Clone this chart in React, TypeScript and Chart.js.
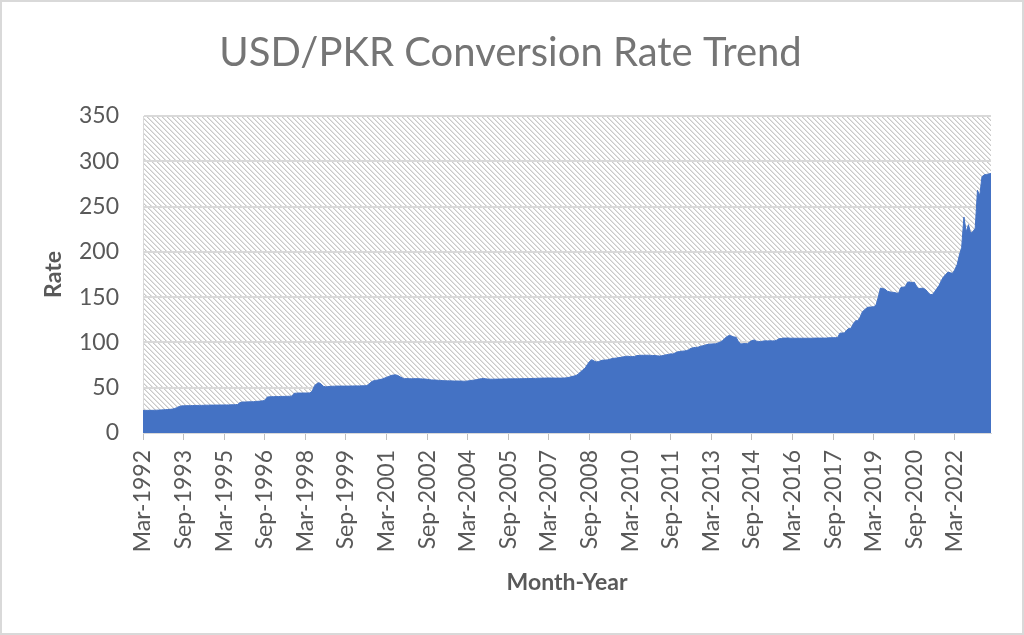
import { useEffect, useRef } from 'react';
import { Chart, registerables } from 'chart.js';

Chart.register(...registerables);

const chartTitle = 'USD/PKR Conversion Rate Trend';
const xAxisTitle = 'Month-Year';
const yAxisTitle = 'Rate';

// x tick labels, one every 18 months starting at Mar-1992 (month index 0)
const tickLabels = [
  'Mar-1992', 'Sep-1993', 'Mar-1995', 'Sep-1996', 'Mar-1998', 'Sep-1999', 'Mar-2001',
  'Sep-2002', 'Mar-2004', 'Sep-2005', 'Mar-2007', 'Sep-2008', 'Mar-2010', 'Sep-2011',
  'Mar-2013', 'Sep-2014', 'Mar-2016', 'Sep-2017', 'Mar-2019', 'Sep-2020', 'Mar-2022',
];
const tickEvery = 18;

// monthly USD/PKR rate, Mar-1992 .. Jul-2023
const rates = [
  /*1992*/ 24.9, 24.9, 25.0, 25.0, 25.0, 25.1, 25.2, 25.3, 25.4, 25.6,
  /*1993*/ 25.8, 25.9, 26.1, 26.4, 27.0, 28.0, 29.2, 29.9, 30.1, 30.1, 30.2, 30.2,
  /*1994*/ 30.3, 30.4, 30.4, 30.5, 30.5, 30.6, 30.7, 30.7, 30.8, 30.8, 30.8, 30.9,
  /*1995*/ 30.9, 30.9, 31.0, 31.0, 31.0, 31.1, 31.2, 31.3, 31.5, 33.6, 34.2, 34.3,
  /*1996*/ 34.3, 34.4, 34.5, 34.6, 34.8, 35.0, 35.2, 35.5, 36.0, 39.5, 40.0, 40.1,
  /*1997*/ 40.1, 40.2, 40.2, 40.3, 40.4, 40.4, 40.5, 40.6, 40.7, 43.8, 44.0, 44.1,
  /*1998*/ 44.1, 44.1, 44.2, 44.2, 44.3, 46.0, 52.0, 54.5, 55.5, 54.0, 51.5, 51.0,
  /*1999*/ 51.2, 51.5, 51.6, 51.7, 51.8, 51.8, 51.8, 51.8, 51.8, 51.8, 51.9, 51.9,
  /*2000*/ 52.0, 52.0, 52.0, 52.1, 52.1, 52.3, 53.5, 56.0, 57.5, 58.0, 58.5, 59.0,
  /*2001*/ 59.5, 60.5, 61.5, 62.5, 63.5, 64.0, 64.2, 63.5, 62.0, 60.8, 60.0, 60.1,
  /*2002*/ 59.9, 59.9, 60.0, 60.0, 60.0, 59.8, 59.7, 59.6, 59.3, 58.9, 58.6, 58.5,
  /*2003*/ 58.4, 58.2, 58.0, 57.8, 57.7, 57.6, 57.6, 57.5, 57.4, 57.4, 57.4, 57.3,
  /*2004*/ 57.2, 57.2, 57.5, 57.8, 58.2, 58.5, 59.0, 59.5, 60.0, 60.2, 59.8, 59.5,
  /*2005*/ 59.4, 59.4, 59.4, 59.5, 59.5, 59.6, 59.7, 59.7, 59.8, 59.8, 59.8, 59.8,
  /*2006*/ 59.9, 59.9, 60.0, 60.0, 60.1, 60.1, 60.2, 60.2, 60.3, 60.4, 60.5, 60.6,
  /*2007*/ 60.6, 60.7, 60.7, 60.7, 60.7, 60.6, 60.6, 60.6, 60.7, 60.8, 61.0, 61.5,
  /*2008*/ 62.3, 62.8, 63.5, 65.0, 67.5, 69.5, 71.5, 75.5, 79.0, 81.0, 79.5, 78.5,
  /*2009*/ 78.9, 79.8, 80.5, 80.5, 80.8, 81.4, 82.2, 82.5, 82.8, 83.3, 83.5, 84.2,
  /*2010*/ 84.5, 84.8, 84.3, 84.4, 84.6, 85.5, 85.6, 85.8, 85.8, 85.8, 85.9, 85.7,
  /*2011*/ 85.6, 85.5, 85.2, 85.0, 85.2, 85.8, 86.4, 86.7, 87.4, 87.2, 88.5, 89.6,
  /*2012*/ 89.9, 90.3, 90.6, 91.0, 92.0, 93.5, 94.2, 94.5, 94.6, 95.6, 96.2, 96.8,
  /*2013*/ 97.6, 98.0, 98.3, 98.4, 98.5, 99.5, 100.5, 102.0, 104.5, 106.5, 107.8, 107.0,
  /*2014*/ 106.0, 105.8, 101.0, 98.3, 98.6, 98.8, 98.6, 100.5, 102.0, 102.7, 101.4, 101.1,
  /*2015*/ 100.7, 101.6, 101.8, 101.7, 101.8, 101.7, 101.8, 102.5, 104.1, 104.3, 104.8, 104.8,
  /*2016*/ 104.9, 104.6, 104.7, 104.6, 104.6, 104.6, 104.6, 104.6, 104.6, 104.6, 104.6, 104.6,
  /*2017*/ 104.8, 104.8, 104.8, 104.8, 104.8, 104.8, 105.1, 105.2, 105.2, 105.3, 105.4, 110.2,
  /*2018*/ 110.4, 110.5, 113.5, 115.5, 115.7, 121.0, 124.0, 124.0, 128.0, 134.0, 136.0, 138.5,
  /*2019*/ 139.0, 139.2, 139.5, 141.0, 150.0, 160.0, 159.5, 158.8, 156.6, 156.0, 155.4, 155.2,
  /*2020*/ 154.6, 154.2, 160.5, 161.0, 161.5, 166.5, 166.8, 166.0, 166.5, 162.0, 159.2, 159.8,
  /*2021*/ 159.7, 158.4, 155.5, 153.0, 152.8, 156.0, 159.5, 163.0, 168.5, 172.5, 175.2, 177.8,
  /*2022*/ 176.8, 176.4, 180.5, 186.0, 196.5, 205.0, 238.5, 222.0, 230.0, 220.5, 222.4, 226.0,
  /*2023*/ 268.0, 262.0, 283.0, 285.0, 285.5, 286.0, 286.5,
];

const yMin = 0;
const yMax = 350;
const yStep = 50;

const FONT = 'Lato, "Open Sans", "Noto Sans", sans-serif';
const TEXT = '#595959';

function makeHatch(): CanvasPattern | string {
  const size = 5;
  const c = document.createElement('canvas');
  c.width = size;
  c.height = size;
  const g = c.getContext('2d');
  if (!g) return '#eeeeee';
  g.fillStyle = '#ffffff';
  g.fillRect(0, 0, size, size);
  for (let i = 0; i < size; i++) {
    g.fillStyle = '#c9c9c9';
    g.fillRect(i, i, 1, 1);
    g.fillStyle = '#e3e3e3';
    g.fillRect((i + 1) % size, i, 1, 1);
  }
  const p = g.createPattern(c, 'repeat');
  return p || '#eeeeee';
}

export default function App() {
  const ref = useRef<HTMLCanvasElement | null>(null);

  useEffect(() => {
    document.body.style.margin = '0';
    const canvas = ref.current;
    if (!canvas) return;
    const hatch = makeHatch();

    const hatchPlugin = {
      id: 'hatchBg',
      beforeDraw(chart: any) {
        const { ctx, chartArea } = chart;
        ctx.save();
        ctx.fillStyle = hatch as any;
        ctx.fillRect(chartArea.left, chartArea.top, chartArea.right - chartArea.left, chartArea.bottom - chartArea.top);
        ctx.restore();
      },
    };
    const borderPlugin = {
      id: 'outerBorder',
      afterDraw(chart: any) {
        const { ctx, width, height } = chart;
        ctx.save();
        ctx.strokeStyle = '#d9d9d9';
        ctx.lineWidth = 2;
        ctx.strokeRect(1, 1, width - 2, height - 2);
        ctx.restore();
      },
    };

    const chart = new Chart(canvas, {
      type: 'line',
      data: {
        datasets: [
          {
            label: yAxisTitle,
            data: rates.map((y, i) => ({ x: i, y })),
            fill: 'origin',
            backgroundColor: '#4472C4',
            borderColor: '#4472C4',
            borderWidth: 1,
            pointRadius: 0,
            tension: 0,
          },
        ],
      },
      options: {
        responsive: false,
        animation: false,
        layout: { padding: { left: 30, right: 33, top: 0, bottom: 30 } },
        plugins: {
          legend: { display: false },
          tooltip: { enabled: false },
          title: {
            display: true,
            text: chartTitle,
            color: '#757575',
            font: { family: FONT, size: 40, weight: 'normal' },
            padding: { top: 29, bottom: 39 },
          },
        },
        scales: {
          x: {
            type: 'linear',
            min: 0,
            max: rates.length - 1,
            afterBuildTicks: (scale: any) => {
              scale.ticks = tickLabels.map((_, i) => ({ value: i * tickEvery }));
            },
            afterFit: (scale: any) => {
              scale.height = 172;
            },
            ticks: {
              autoSkip: false,
              minRotation: 90,
              maxRotation: 90,
              padding: 10,
              color: TEXT,
              font: { family: FONT, size: 23 },
              callback: (value: any) => {
                const idx = Math.round(Number(value) / tickEvery);
                return tickLabels[idx] ?? '';
              },
            },
            grid: {
              drawOnChartArea: false,
              drawTicks: true,
              tickLength: 7,
              color: '#bfbfbf',
            },
            border: { display: true, color: '#d9d9d9' },
            title: {
              display: true,
              text: xAxisTitle,
              color: TEXT,
              font: { family: FONT, size: 23, weight: 'bold' },
              padding: { top: 0, bottom: 9 },
            },
          },
          y: {
            min: yMin,
            max: yMax,
            afterFit: (scale: any) => {
              scale.width = 113;
            },
            ticks: {
              stepSize: yStep,
              padding: 24,
              color: TEXT,
              font: { family: FONT, size: 23 },
            },
            grid: {
              color: '#d9d9d9',
              lineWidth: 2,
              drawTicks: false,
            },
            border: { display: true, color: '#d9d9d9' },
            title: {
              display: true,
              text: yAxisTitle,
              color: TEXT,
              font: { family: FONT, size: 23, weight: 'bold' },
              padding: { top: 10, bottom: 0 },
            },
          },
        },
      },
      plugins: [hatchPlugin, borderPlugin],
    } as any);

    return () => chart.destroy();
  }, []);

  return (
    <div style={{ width: 1024, height: 635, background: '#ffffff' }}>
      <canvas ref={ref} width={1024} height={635} style={{ display: 'block' }} />
    </div>
  );
}
